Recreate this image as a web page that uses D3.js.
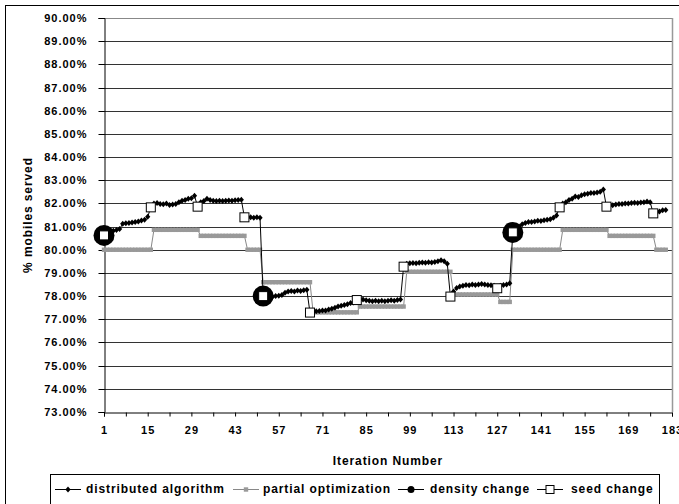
<!DOCTYPE html>
<html>
<head>
<meta charset="utf-8">
<script src="https://cdn.jsdelivr.net/npm/d3@7"></script>
<style>
  html, body { margin: 0; padding: 0; background: #fff; }
  svg { display: block; }
  text { font-family: "Liberation Sans", Arial, sans-serif; font-weight: bold; fill: #000; }
</style>
</head>
<body>
<div id="chart"></div>
<script>
// ---------- data ----------
const iterations = d3.range(1, 182); // 1..181

const distributed = [
  80.62, 80.70, 80.78, 80.82, 80.85, 80.90, 81.12, 81.14, 81.16, 81.18,
  81.20, 81.22, 81.26, 81.30, 81.42, 81.83, 82.00, 82.02, 81.98, 81.96,
  82.00, 81.93, 81.95, 81.98, 82.05, 82.12, 82.15, 82.20, 82.22, 82.33,
  81.86, 82.05, 82.10, 82.20, 82.15, 82.12, 82.10, 82.12, 82.10, 82.12,
  82.13, 82.12, 82.14, 82.15, 82.16, 81.40, 81.42, 81.40, 81.38, 81.40,
  81.38, 78.00, 77.98, 78.00, 77.97, 78.00, 78.02, 78.05, 78.15, 78.20,
  78.22, 78.20, 78.24, 78.22, 78.25, 78.27, 77.29, 77.33, 77.35, 77.36,
  77.38, 77.38, 77.42, 77.45, 77.50, 77.55, 77.58, 77.62, 77.65, 77.70,
  77.72, 77.83, 77.88, 77.85, 77.82, 77.80, 77.78, 77.80, 77.78, 77.80,
  77.78, 77.80, 77.82, 77.80, 77.83, 77.85, 79.27, 79.40, 79.42, 79.43,
  79.42, 79.44, 79.45, 79.44, 79.46, 79.45, 79.47, 79.50, 79.55, 79.50,
  79.40, 77.98, 78.20, 78.35, 78.42, 78.45, 78.48, 78.47, 78.50, 78.48,
  78.50, 78.52, 78.50, 78.48, 78.47, 78.45, 78.34, 78.45, 78.48, 78.50,
  78.55, 80.75, 80.90, 81.00, 81.10, 81.15, 81.20, 81.20, 81.22, 81.25,
  81.24, 81.27, 81.30, 81.32, 81.38, 81.48, 81.83, 82.00, 82.05, 82.15,
  82.20, 82.30, 82.28, 82.35, 82.40, 82.42, 82.45, 82.45, 82.47, 82.50,
  82.60, 81.86, 81.90, 81.92, 81.95, 81.97, 81.98, 82.00, 82.00, 82.02,
  82.03, 82.02, 82.04, 82.05, 82.08, 82.05, 81.57, 81.60, 81.65, 81.70,
  81.72
];

const partial = [
  80.00, 80.00, 80.00, 80.00, 80.00, 80.00, 80.00, 80.00, 80.00, 80.00,
  80.00, 80.00, 80.00, 80.00, 80.00, 80.00, 80.86, 80.86, 80.86, 80.86,
  80.86, 80.86, 80.86, 80.86, 80.86, 80.86, 80.86, 80.86, 80.86, 80.86,
  80.86, 80.60, 80.60, 80.60, 80.60, 80.60, 80.60, 80.60, 80.60, 80.60,
  80.60, 80.60, 80.60, 80.60, 80.60, 80.60, 80.00, 80.00, 80.00, 80.00,
  80.00, 78.60, 78.60, 78.60, 78.60, 78.60, 78.60, 78.60, 78.60, 78.60,
  78.60, 78.60, 78.60, 78.60, 78.60, 78.60, 78.60, 77.30, 77.30, 77.30,
  77.30, 77.30, 77.30, 77.30, 77.30, 77.30, 77.30, 77.30, 77.30, 77.30,
  77.30, 77.30, 77.55, 77.55, 77.55, 77.55, 77.55, 77.55, 77.55, 77.55,
  77.55, 77.55, 77.55, 77.55, 77.55, 77.55, 77.55, 79.05, 79.05, 79.05,
  79.05, 79.05, 79.05, 79.05, 79.05, 79.05, 79.05, 79.05, 79.05, 79.05,
  79.05, 79.05, 78.07, 78.07, 78.07, 78.07, 78.07, 78.07, 78.07, 78.07,
  78.07, 78.07, 78.07, 78.07, 78.07, 78.07, 78.07, 77.75, 77.75, 77.75,
  77.75, 80.00, 80.00, 80.00, 80.00, 80.00, 80.00, 80.00, 80.00, 80.00,
  80.00, 80.00, 80.00, 80.00, 80.00, 80.00, 80.00, 80.86, 80.86, 80.86,
  80.86, 80.86, 80.86, 80.86, 80.86, 80.86, 80.86, 80.86, 80.86, 80.86,
  80.86, 80.86, 80.60, 80.60, 80.60, 80.60, 80.60, 80.60, 80.60, 80.60,
  80.60, 80.60, 80.60, 80.60, 80.60, 80.60, 80.60, 80.00, 80.00, 80.00,
  80.00
];

const densityIter = [1, 52, 132];
const densityVals = [80.62, 78.00, 80.75];

const seedIter = [1, 16, 31, 46, 52, 67, 82, 97, 112, 127, 132, 147, 162, 177];
const seedVals = [80.62, 81.83, 81.86, 81.40, 78.00, 77.29, 77.83, 79.27, 77.98, 78.34, 80.75, 81.83, 81.86, 81.57];

const yTicks = d3.range(73, 91);            // 73 .. 90
const xTickMarks = d3.range(1, 184, 7);     // minor category ticks
const xTickLabels = d3.range(1, 184, 14);   // 1, 15, ..., 183

const legendItems = ["distributed algorithm", "partial optimization", "density change", "seed change"];

// ---------- layout ----------
const W = 679, H = 504;
const L = 104, R = 672, T = 18, B = 412;

const svg = d3.select("#chart").append("svg").attr("width", W).attr("height", H);

// outer chart border (right/bottom fall outside the window)
svg.append("rect").attr("x", 5.5).attr("y", 5.5).attr("width", 700).attr("height", 520)
  .attr("fill", "#fff").attr("stroke", "#000").attr("stroke-width", 1);

const x = d3.scaleLinear().domain([1, 183]).range([L, R]);
const y = d3.scaleLinear().domain([73, 90]).range([B, T]);

// gridlines
svg.append("g").selectAll("line").data(yTicks.filter(d => d > 73)).join("line")
  .attr("x1", L).attr("x2", R)
  .attr("y1", d => Math.round(y(d)) + 0.5).attr("y2", d => Math.round(y(d)) + 0.5)
  .attr("stroke", d => d === 90 ? "#888" : "#333").attr("stroke-width", 1);

// right plot border
svg.append("line").attr("x1", R + 0.5).attr("x2", R + 0.5).attr("y1", T).attr("y2", B)
  .attr("stroke", "#999").attr("stroke-width", 1.5);

// y axis
const yAxis = d3.axisLeft(y).tickValues(yTicks).tickSize(6).tickPadding(11)
  .tickFormat(d => d3.format(".2f")(d) + "%");
const gy = svg.append("g").attr("transform", `translate(${L + 0.5},0)`).call(yAxis);
gy.select(".domain").attr("stroke", "#000");
gy.selectAll(".tick line").attr("stroke", "#000");
gy.selectAll(".tick").attr("transform", d => `translate(0,${Math.round(y(d)) + 0.5})`);
gy.selectAll("text").style("font-size", "11px").style("letter-spacing", "1px")
  .style("font-family", "'Liberation Sans', Arial, sans-serif").style("font-weight", "bold").attr("fill", "#000");

// x axis
const xAxis = d3.axisBottom(x).tickValues(xTickMarks).tickSize(4).tickPadding(10)
  .tickFormat(d => xTickLabels.includes(d) ? String(d) : "");
const gx = svg.append("g").attr("transform", `translate(0,${B + 0.5})`).call(xAxis);
gx.select(".domain").attr("stroke", "#000");
gx.selectAll(".tick line").attr("stroke", "#000");
gx.selectAll("text").style("font-size", "11px").style("letter-spacing", "1px")
  .style("font-family", "'Liberation Sans', Arial, sans-serif").style("font-weight", "bold").attr("fill", "#000");

// axis titles
svg.append("text").attr("x", (L + R) / 2).attr("y", 465).attr("text-anchor", "middle")
  .style("font-size", "12px").style("letter-spacing", "0.9px").text("Iteration Number");
svg.append("text").attr("transform", `translate(32,${(T + B) / 2}) rotate(-90)`).attr("text-anchor", "middle")
  .style("font-size", "12px").style("letter-spacing", "0.9px").text("% mobiles served");

// ---------- series ----------
const line = d3.line().x((d, i) => x(iterations[i])).y(d => y(d));
const diamond = "M0,-3L2.6,0L0,3L-2.6,0Z";

// partial optimization: thin gray line + small gray squares
svg.append("path").attr("d", line(partial)).attr("fill", "none").attr("stroke", "#888").attr("stroke-width", 1);
svg.append("g").selectAll("rect").data(partial).join("rect")
  .attr("x", (d, i) => x(iterations[i]) - 2.2).attr("y", d => y(d) - 2.2)
  .attr("width", 4.4).attr("height", 4.4).attr("fill", "#999");

// distributed algorithm: thin black line + diamonds
svg.append("path").attr("d", line(distributed)).attr("fill", "none").attr("stroke", "#000").attr("stroke-width", 1);
svg.append("g").selectAll("path").data(distributed).join("path")
  .attr("d", diamond)
  .attr("transform", (d, i) => `translate(${x(iterations[i])},${y(d)})`).attr("fill", "#000");

// density change: large black circles
svg.append("g").selectAll("circle").data(densityVals).join("circle")
  .attr("cx", (d, i) => x(densityIter[i])).attr("cy", d => y(d)).attr("r", 10.5).attr("fill", "#000");

// seed change: white squares with black outline
svg.append("g").selectAll("rect").data(seedVals).join("rect")
  .attr("x", (d, i) => x(seedIter[i]) - 4.5).attr("y", d => y(d) - 4.5)
  .attr("width", 9).attr("height", 9).attr("fill", "#fff").attr("stroke", "#000").attr("stroke-width", 1);

// ---------- legend ----------
const lg = svg.append("g");
lg.append("rect").attr("x", 50.5).attr("y", 474.5).attr("width", 609).attr("height", 40)
  .attr("fill", "#fff").attr("stroke", "#000").attr("stroke-width", 1);
const legX = [55, 233, 398, 537];
const legTX = [86, 263, 430, 571];
const ly = 489;
legendItems.forEach((name, k) => {
  const g = lg.append("g");
  const cx = legX[k] + 13;
  g.append("line").attr("x1", legX[k]).attr("x2", legX[k] + 26).attr("y1", ly + 0.5).attr("y2", ly + 0.5)
    .attr("stroke", k === 1 ? "#888" : "#000").attr("stroke-width", 1);
  if (k === 0) g.append("path").attr("d", diamond).attr("transform", `translate(${cx},${ly + 0.5})`).attr("fill", "#000");
  if (k === 1) g.append("rect").attr("x", cx - 2.2).attr("y", ly + 0.5 - 2.2).attr("width", 4.4).attr("height", 4.4).attr("fill", "#999");
  if (k === 2) g.append("circle").attr("cx", cx).attr("cy", ly + 0.5).attr("r", 3.5).attr("fill", "#000");
  if (k === 3) g.append("rect").attr("x", cx - 4).attr("y", ly + 0.5 - 4).attr("width", 8).attr("height", 8).attr("fill", "#fff").attr("stroke", "#000");
  g.append("text").attr("x", legTX[k]).attr("y", ly).attr("dy", "0.35em")
    .style("font-size", "12px").style("letter-spacing", "0.9px").text(name);
});
</script>
</body>
</html>
